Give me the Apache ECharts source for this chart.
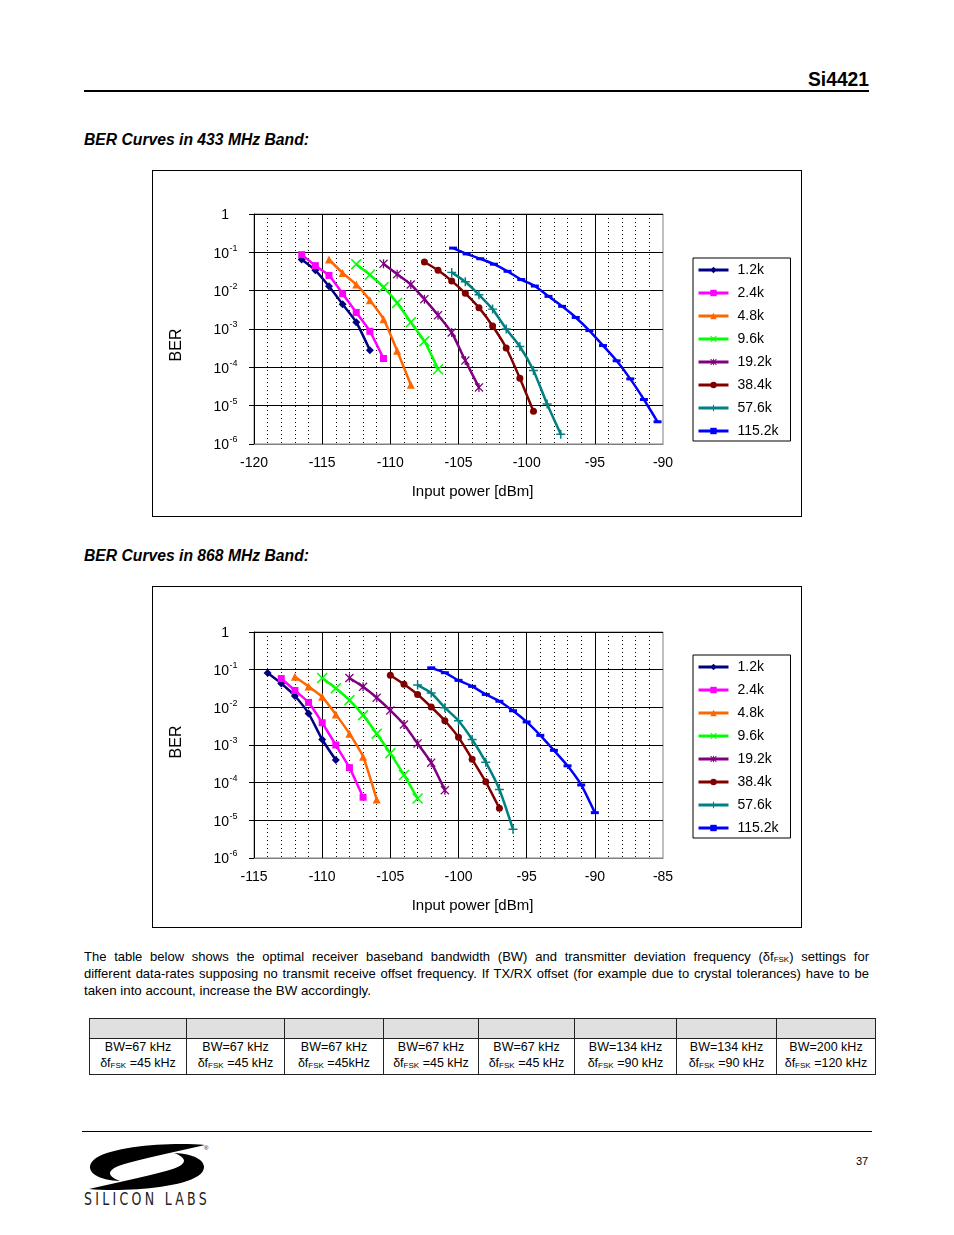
<!DOCTYPE html>
<html>
<head>
<meta charset="utf-8">
<script src="https://cdn.jsdelivr.net/npm/echarts@6.0.0/dist/echarts.min.js"></script>
<style>
  html, body { margin:0; padding:0; background:#fff; }
  #page { position:relative; width:954px; height:1235px; background:#fff; overflow:hidden; font-family:"Liberation Sans", Arial, sans-serif; color:#000; }
  .abs { position:absolute; white-space:nowrap; line-height:1; }
  .frame { position:absolute; box-sizing:border-box; border:1px solid #000; background:#fff; }
  .chart { position:absolute; left:0; top:0; }
  .pl { position:absolute; left:84px; font-size:13px; line-height:13px; white-space:nowrap; }
  .pl.j { text-align:justify; text-align-last:justify; }
  table.bw { position:absolute; left:89px; top:1018px; border-collapse:collapse; font-size:12.5px; table-layout:fixed; }
  table.bw td { border:1px solid #222; padding:0; text-align:center; line-height:16px; white-space:nowrap; }
  table.bw tr.h td { background:#e0e0e0; height:19px; }
  table.bw tr.d td { height:31px; }
  .sub { font-size:8px; vertical-align:-1px; }
</style>
</head>
<body>
<div id="page">
  <div class="abs fit" data-w="61" style="left:808px; top:68px; font-size:21px; font-weight:bold;">Si4421</div>
  <div class="abs" style="left:84px; top:90px; width:785px; height:2px; background:#000;"></div>

  <div class="abs fit" data-w="225" style="left:84px; top:132px; font-size:16px; font-weight:bold; font-style:italic;">BER Curves in 433 MHz Band:</div>
  <div class="frame" style="left:152px; top:170px; width:650px; height:347px;">
    <div id="c433" class="chart" style="width:648px; height:345px;"></div>
  </div>

  <div class="abs fit" data-w="225" style="left:84px; top:548px; font-size:16px; font-weight:bold; font-style:italic;">BER Curves in 868 MHz Band:</div>
  <div class="frame" style="left:152px; top:586px; width:650px; height:342px;">
    <div id="c868" class="chart" style="width:648px; height:340px;"></div>
  </div>

  <div class="pl j" data-w="785" style="top:950px;"><span>The table below shows the optimal receiver baseband bandwidth (BW) and transmitter deviation frequency (δf<span class="sub">FSK</span>) settings for</span></div>
  <div class="pl j" data-w="785" style="top:967px;"><span>different data-rates supposing no transmit receive offset frequency. If TX/RX offset (for example due to crystal tolerances) have to be</span></div>
  <div class="pl" data-w="287" style="top:984px;"><span>taken into account, increase the BW accordingly.</span></div>

  <table class="bw">
    <colgroup>
      <col style="width:97px"><col style="width:98px"><col style="width:99px"><col style="width:95px">
      <col style="width:96px"><col style="width:102px"><col style="width:100px"><col style="width:99px">
    </colgroup>
    <tr class="h"><td></td><td></td><td></td><td></td><td></td><td></td><td></td><td></td></tr>
    <tr class="d">
      <td>BW=67 kHz<br>δf<span class="sub">FSK</span> =45 kHz</td>
      <td>BW=67 kHz<br>δf<span class="sub">FSK</span> =45 kHz</td>
      <td>BW=67 kHz<br>δf<span class="sub">FSK</span> =45kHz</td>
      <td>BW=67 kHz<br>δf<span class="sub">FSK</span> =45 kHz</td>
      <td>BW=67 kHz<br>δf<span class="sub">FSK</span> =45 kHz</td>
      <td>BW=134 kHz<br>δf<span class="sub">FSK</span> =90 kHz</td>
      <td>BW=134 kHz<br>δf<span class="sub">FSK</span> =90 kHz</td>
      <td>BW=200 kHz<br>δf<span class="sub">FSK</span> =120 kHz</td>
    </tr>
  </table>

  <div class="abs" style="left:82px; top:1131px; width:790px; height:1px; background:#000;"></div>

  <svg class="abs" style="left:86px; top:1143px;" width="126" height="48" viewBox="0 0 126 48">
    <path d="M119,2 C90,-1 30,2 10,15 C-3,24 5,37 34,38 C20,33 19,26 42,20 C64,14 93,8 119,2 Z" fill="#000"/>
    <path d="M3,46 C32,49 92,46 112,33 C125,24 117,11 88,10 C102,15 103,22 80,28 C58,34 29,40 3,46 Z" fill="#000"/>
    <text x="118" y="7" font-size="6" font-family="Liberation Sans, Arial">®</text>
  </svg>
  <div class="abs fit" data-w="126" style="left:84px; top:1191px; font-size:17px; font-weight:200; color:#222; letter-spacing:4px; font-family:'DejaVu Sans Condensed','DejaVu Sans',sans-serif;">SILICON LABS</div>

  <div class="abs" style="left:856px; top:1156px; font-size:11px;">37</div>
</div>

<script>
// ---------------- DATA ----------------
const rates = ['1.2k', '2.4k', '4.8k', '9.6k', '19.2k', '38.4k', '57.6k', '115.2k'];

// 433 MHz band: input power [dBm] and BER per data-rate
const p433_1k2   = [-116.5, -115.5, -114.5, -113.5, -112.5, -111.5];
const ber433_1k2 = [0.065, 0.034, 0.013, 0.0044, 0.0015, 0.00028];
const p433_2k4   = [-116.5, -115.5, -114.5, -113.5, -112.5, -111.5, -110.5];
const ber433_2k4 = [0.087, 0.045, 0.025, 0.0083, 0.0027, 0.00087, 0.00017];
const p433_4k8   = [-114.5, -113.5, -112.5, -111.5, -110.5, -109.5, -108.5];
const ber433_4k8 = [0.065, 0.029, 0.0145, 0.0056, 0.0018, 0.00027, 0.000035];
const p433_9k6   = [-112.5, -111.5, -110.5, -109.5, -108.5, -107.5, -106.5];
const ber433_9k6 = [0.049, 0.026, 0.0123, 0.0048, 0.0015, 0.00048, 0.000089];
const p433_19k2   = [-110.5, -109.5, -108.5, -107.5, -106.5, -105.5, -104.5, -103.5];
const ber433_19k2 = [0.050, 0.027, 0.0145, 0.006, 0.0023, 0.00081, 0.00015, 0.00003];
const p433_38k4   = [-107.5, -106.5, -105.5, -104.5, -103.5, -102.5, -101.5, -100.5, -99.5];
const ber433_38k4 = [0.056, 0.034, 0.018, 0.0085, 0.0036, 0.0012, 0.00032, 0.000052, 0.0000071];
const p433_57k6   = [-105.5, -104.5, -103.5, -102.5, -101.5, -100.5, -99.5, -98.5, -97.5];
const ber433_57k6 = [0.030, 0.017, 0.0078, 0.0033, 0.001, 0.00035, 0.000083, 0.000011, 0.0000018];
const p433_115k2   = [-105.4, -104.4, -103.4, -102.4, -101.4, -100.4, -99.4, -98.4, -97.4, -96.4, -95.4, -94.4, -93.4, -92.4, -91.4, -90.4];
const ber433_115k2 = [0.129, 0.091, 0.068, 0.049, 0.032, 0.0195, 0.0132, 0.0071, 0.0039, 0.002, 0.00091, 0.00037, 0.000148, 0.00005, 0.0000145, 0.0000038];

// 868 MHz band
const p868_1k2   = [-114, -113, -112, -111, -110, -109];
const ber868_1k2 = [0.081, 0.043, 0.020, 0.0069, 0.0014, 0.0004];
const p868_2k4   = [-113, -112, -111, -110, -109, -108, -107];
const ber868_2k4 = [0.058, 0.028, 0.0135, 0.0039, 0.001, 0.00025, 0.000041];
const p868_4k8   = [-112, -111, -110, -109, -108, -107, -106];
const ber868_4k8 = [0.065, 0.036, 0.019, 0.0065, 0.002, 0.00049, 0.000036];
const p868_9k6   = [-110, -109, -108, -107, -106, -105, -104, -103];
const ber868_9k6 = [0.060, 0.032, 0.0155, 0.0062, 0.002, 0.0006, 0.00016, 0.000038];
const p868_19k2   = [-108, -107, -106, -105, -104, -103, -102, -101];
const ber868_19k2 = [0.060, 0.035, 0.018, 0.0083, 0.0035, 0.0011, 0.00034, 0.000063];
const p868_38k4   = [-105, -104, -103, -102, -101, -100, -99, -98, -97];
const ber868_38k4 = [0.071, 0.041, 0.022, 0.0102, 0.0044, 0.0016, 0.00042, 0.000105, 0.000021];
const p868_57k6   = [-103, -102, -101, -100, -99, -98, -97, -96];
const ber868_57k6 = [0.039, 0.024, 0.0098, 0.0044, 0.0014, 0.00035, 0.000066, 0.0000058];
const p868_115k2   = [-102, -101, -100, -99, -98, -97, -96, -95, -94, -93, -92, -91, -90];
const ber868_115k2 = [0.112, 0.083, 0.052, 0.036, 0.022, 0.0145, 0.0081, 0.0041, 0.0018, 0.00072, 0.00028, 0.000087, 0.000016];

const xRange433 = [-120, -90];
const xRange868 = [-115, -85];
const berRange = [1e-6, 1];

// ---------------- STYLE ----------------
const FONT = '"Liberation Sans", Arial, sans-serif';
const colors = ['#000080', '#FF00FF', '#FF6600', '#00FF00', '#800080', '#800000', '#008080', '#0000FF'];
const XSYM = 'path://M1,0L5,4L9,0L10,1L6,5L10,9L9,10L5,6L1,10L0,9L4,5L0,1Z';
const STAR = 'path://M1,0L5,4L9,0L10,1L6,5L10,9L9,10L5,6L1,10L0,9L4,5L0,1Z M4.3,0H5.7V10H4.3Z';
const PLUS = 'path://M4.2,0H5.8V4.2H10V5.8H5.8V10H4.2V5.8H0V4.2H4.2Z';
const symbols = ['diamond', 'rect', 'triangle', XSYM, STAR, 'circle', PLUS, 'rect'];
const symSizes = [8, 7, 8, 11, 9, 7, 9, [8, 3]];

function mkSeries(pws, bers) {
  return rates.map((r, i) => ({
    type: 'line', name: r,
    data: pws[i].map((x, k) => [x, bers[i][k]]),
    symbol: symbols[i], symbolSize: symSizes[i], showSymbol: true,
    smooth: 0.2,
    lineStyle: { color: colors[i], width: 2.5 },
    itemStyle: { color: colors[i] },
    z: 3 + i
  }));
}

function yFmt(v) {
  const e = Math.round(Math.log10(v));
  return e === 0 ? '{b|1}{s| }' : '{b|10}{s|' + e + '}';
}

function buildOption(xr, gridTop, gridH, legendTop, berPad, series) {
  return {
    animation: false,
    textStyle: { fontFamily: FONT },
    grid: { left: 101, top: gridTop, width: 409, height: gridH, show: true, borderColor: '#808080', borderWidth: 1,
            backgroundColor: '#fff', containLabel: false, outerBoundsMode: 'none' },
    legend: {
      orient: 'vertical', left: 540, top: legendTop,
      itemWidth: 30, itemHeight: 8, itemGap: 9,
      padding: [5, 12, 3, 4], borderColor: '#000', borderWidth: 1, borderRadius: 0, backgroundColor: '#fff',
      lineStyle: { width: 3 },
      textStyle: { fontSize: 14, color: '#000', fontFamily: FONT, padding: [0, 0, 0, 4] },
      data: rates
    },
    xAxis: {
      type: 'value', min: xr[0], max: xr[1], interval: 5,
      name: 'Input power [dBm]', nameLocation: 'middle', nameGap: 40,
      nameTextStyle: { fontSize: 15, color: '#000', fontFamily: FONT, padding: [0, 0, 0, 28] },
      axisLine: { show: true, onZero: false, lineStyle: { color: '#808080', width: 1 } },
      axisTick: { show: false },
      axisLabel: { fontSize: 14, color: '#000', margin: 12, fontFamily: FONT },
      splitLine: { show: true, showMaxLine: false, lineStyle: { color: '#000', width: 1 } },
      minorTick: { show: false, splitNumber: 5 },
      minorSplitLine: { show: true, lineStyle: { color: '#000', width: 1, type: [1, 3] } }
    },
    yAxis: {
      type: 'log', logBase: 10, min: berRange[0], max: berRange[1], splitNumber: 6,
      name: 'BER', nameLocation: 'middle', nameGap: 69, nameRotate: 90,
      nameTextStyle: { fontSize: 16, color: '#000', fontFamily: FONT, padding: berPad },
      axisLine: { show: true, lineStyle: { color: '#000', width: 1 } },
      axisTick: { show: true, length: 5, lineStyle: { color: '#000', width: 1 } },
      axisLabel: {
        margin: 16, formatter: yFmt,
        rich: {
          b: { fontSize: 14, color: '#000', fontFamily: FONT, lineHeight: 17, verticalAlign: 'bottom' },
          s: { fontSize: 9, color: '#000', fontFamily: FONT, verticalAlign: 'top', width: 9, align: 'left', lineHeight: 10 }
        }
      },
      splitLine: { show: true, showMinLine: false, lineStyle: { color: '#000', width: 1 } },
      minorSplitLine: { show: false }
    },
    series: series
  };
}

const c1 = echarts.init(document.getElementById('c433'), null, { renderer: 'canvas' });
c1.setOption(buildOption(xRange433, 43, 230, 87, [0, 32, 0, 0],
  mkSeries([p433_1k2, p433_2k4, p433_4k8, p433_9k6, p433_19k2, p433_38k4, p433_57k6, p433_115k2],
           [ber433_1k2, ber433_2k4, ber433_4k8, ber433_9k6, ber433_19k2, ber433_38k4, ber433_57k6, ber433_115k2])));

const c2 = echarts.init(document.getElementById('c868'), null, { renderer: 'canvas' });
c2.setOption(buildOption(xRange868, 45, 226, 68, [0, 0, 0, 6],
  mkSeries([p868_1k2, p868_2k4, p868_4k8, p868_9k6, p868_19k2, p868_38k4, p868_57k6, p868_115k2],
           [ber868_1k2, ber868_2k4, ber868_4k8, ber868_9k6, ber868_19k2, ber868_38k4, ber868_57k6, ber868_115k2])));

// ---------------- text fitting ----------------
document.querySelectorAll('.fit').forEach(el => {
  el.style.display = 'inline-block';
  const w = parseFloat(el.dataset.w);
  const cur = el.getBoundingClientRect().width;
  el.style.transformOrigin = '0 0';
  el.style.transform = 'scaleX(' + (w / cur) + ')';
});
document.querySelectorAll('.pl').forEach(el => {
  const w = parseFloat(el.dataset.w);
  const span = el.firstElementChild;
  const isJ = el.classList.contains('j');
  el.classList.remove('j');
  const nat = span.getBoundingClientRect().width;
  if (isJ) {
    el.classList.add('j');
    if (nat > w) {
      const k = w / nat * 0.995;
      el.style.width = (w / k) + 'px';
      el.style.transformOrigin = '0 0';
      el.style.transform = 'scaleX(' + k + ')';
    } else {
      el.style.width = w + 'px';
    }
  } else {
    const k = w / nat;
    el.style.transformOrigin = '0 0';
    el.style.transform = 'scaleX(' + k + ')';
  }
});
</script>
</body>
</html>
